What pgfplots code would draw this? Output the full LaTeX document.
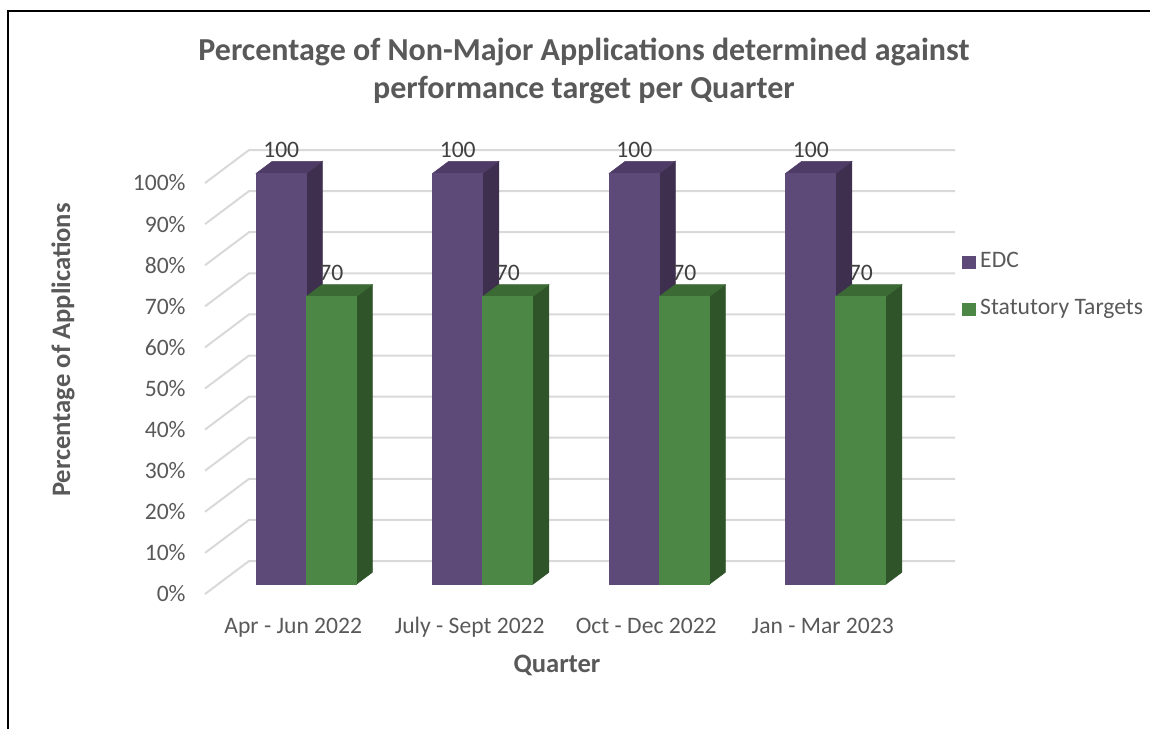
\documentclass[border=0pt]{standalone}
\usepackage{pgfplots}
\usepackage{pgfplotstable}
\pgfplotsset{compat=1.18}
\usepackage{fontspec}
\setmainfont{Carlito}
\definecolor{edcF}{HTML}{5E4A79}
\definecolor{edcT}{HTML}{4E3C66}
\definecolor{edcS}{HTML}{3E2F4F}
\definecolor{stF}{HTML}{4C8745}
\definecolor{stT}{HTML}{3B6A34}
\definecolor{stS}{HTML}{2F5429}
\definecolor{txt}{HTML}{595959}
\definecolor{lbl}{HTML}{404040}
\definecolor{gridc}{HTML}{D9D9D9}

\pgfplotstableread{
x edc stat
0.5 100 70
1.5 100 70
2.5 100 70
3.5 100 70
}\datatable

% 3D geometry in axis units
\def\ox{0.0737}\def\oy{2.36}\def\bw{0.2833}\def\ddx{0.0907}\def\ddy{2.92}

\newcommand\prism[5]{% #1 left x, #2 value, #3 front, #4 top, #5 side
  \pgfmathsetmacro\xl{#1}%
  \pgfmathsetmacro\xr{#1+\bw}%
  \pgfmathsetmacro\xld{#1+\ddx}%
  \pgfmathsetmacro\xrd{#1+\bw+\ddx}%
  \pgfmathsetmacro\yb{\oy}%
  \pgfmathsetmacro\ybd{\oy+\ddy}%
  \pgfmathsetmacro\yt{#2+\oy}%
  \pgfmathsetmacro\ytd{#2+\oy+\ddy}%
  \edef\tmp{%
    \noexpand\addplot[fill=#5,draw=#5,line width=0.3pt,forget plot] coordinates {(\xr,\yb) (\xrd,\ybd) (\xrd,\ytd) (\xr,\yt)} --cycle;
    \noexpand\addplot[fill=#4,draw=#4,line width=0.3pt,forget plot] coordinates {(\xl,\yt) (\xr,\yt) (\xrd,\ytd) (\xld,\ytd)} --cycle;
    \noexpand\addplot[fill=#3,draw=#3,line width=0.3pt,forget plot] coordinates {(\xl,\yb) (\xr,\yb) (\xr,\yt) (\xl,\yt)} --cycle;
  }\tmp
}

\begin{document}
\begin{tikzpicture}[x=0.5pt,y=-0.5pt]
\path[use as bounding box] (0,0) rectangle (1150,729);
\draw[line width=1pt] (8,729) -- (8,11) -- (1150,11);

\begin{axis}[
  at={(102.5pt,-297pt)}, anchor=south west,
  scale only axis, width=353pt, height=205.5pt,
  xmin=0, xmax=4, ymin=0, ymax=100,
  clip=false,
  axis line style={draw=none},
  major tick length=0pt,
  tick style={draw=none},
  /pgf/number format/assume math mode=true,
  ytick={0,10,...,100},
  yticklabel={\pgfmathprintnumber{\tick}\%},
  xtick={0.5,1.5,2.5,3.5},
  xticklabels={Apr - Jun 2022, July - Sept 2022, Oct - Dec 2022, Jan - Mar 2023},
  tick label style={font=\fontsize{11.8}{14}\selectfont, text=txt},
  y tick label style={anchor=east, inner sep=0pt, xshift=-9.5pt},
  x tick label style={anchor=base, inner sep=0pt, yshift=-19.5pt},
  legend image code/.code={\fill[#1,draw=none] (0pt,-3.3pt) rectangle (7pt,3.3pt);},
  legend cell align=left,
  legend style={at={(1.072,0.842)}, anchor=north west, draw=none, fill=none,
    font=\fontsize{11.8}{14}\selectfont, text=txt, inner sep=0pt, row sep=9.75pt,
    nodes={inner sep=2pt, text height=0.75em, text depth=0.25em}},
]
\pgfplotsinvokeforeach{0,10,...,100}{
  \draw[gridc, line width=1pt] (axis cs:0,#1) -- ++(22pt,16.5pt) -- ++(353pt,0pt);
}
% data labels
\addplot[draw=none, mark=none, forget plot, nodes near coords, point meta=explicit,
  every node near coord/.append style={anchor=center, yshift=11.75pt, font=\fontsize{11.8}{14}\selectfont, text=lbl}]
  table[x expr=\thisrow{x}+\ox-\bw/2, y expr=\thisrow{edc}+\oy, meta=edc] {\datatable};
\addplot[draw=none, mark=none, forget plot, nodes near coords, point meta=explicit,
  every node near coord/.append style={anchor=center, yshift=11.75pt, font=\fontsize{11.8}{14}\selectfont, text=lbl}]
  table[x expr=\thisrow{x}+\ox+\bw/2, y expr=\thisrow{stat}+\oy, meta=stat] {\datatable};

\pgfplotsinvokeforeach{0,1,2,3}{
  \pgfplotstablegetelem{#1}{x}\of\datatable \let\cx\pgfplotsretval
  \pgfplotstablegetelem{#1}{edc}\of\datatable \let\ve\pgfplotsretval
  \pgfplotstablegetelem{#1}{stat}\of\datatable \let\vs\pgfplotsretval
  \pgfmathsetmacro\lx{\cx+\ox-\bw}
  \prism{\lx}{\ve}{edcF}{edcT}{edcS}
  \pgfmathsetmacro\lx{\cx+\ox}
  \prism{\lx}{\vs}{stF}{stT}{stS}
}
\addlegendimage{fill=edcF,draw=none}\addlegendentry{EDC}
\addlegendimage{fill=stF,draw=none}\addlegendentry{Statutory Targets}
\end{axis}

\node[font=\bfseries\fontsize{16}{19}\selectfont, text=txt, align=center] at (584,71)
  {Percentage of Non-Major Applications determined against\\performance target per Quarter};
\node[font=\bfseries\fontsize{13.3}{16}\selectfont, text=txt, rotate=90] at (63,350) {Percentage of Applications};
\node[font=\bfseries\fontsize{13.3}{16}\selectfont, text=txt] at (557,665) {Quarter};
\end{tikzpicture}
\end{document}
